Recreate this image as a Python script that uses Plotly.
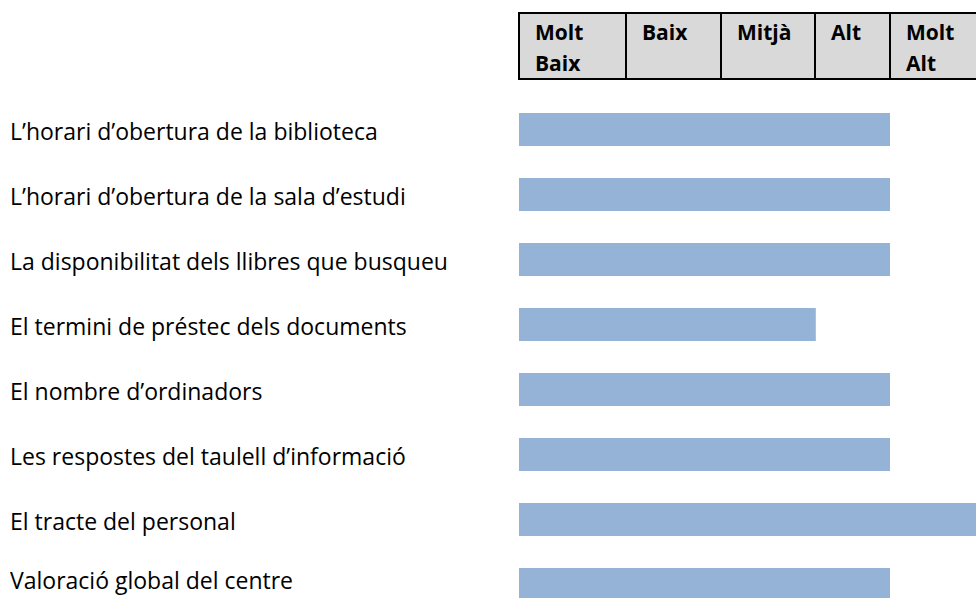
import plotly.graph_objects as go

# ---- data ----
categories = [
    "L\u2019horari d\u2019obertura de la biblioteca",
    "L\u2019horari d\u2019obertura de la sala d\u2019estudi",
    "La disponibilitat dels llibres que busqueu",
    "El termini de préstec dels documents",
    "El nombre d\u2019ordinadors",
    "Les respostes del taulell d\u2019informació",
    "El tracte del personal",
    "Valoració global del centre",
]
values = [4.0, 4.0, 4.0, 3.2, 4.0, 4.0, 5.0, 4.0]
levels = [["Molt", "Baix"], ["Baix"], ["Mitjà"], ["Alt"], ["Molt", "Alt"]]

# ---- layout constants ----
W, H = 976, 598
X0_PX, UNIT_PX = 519.0, 92.75           # axis: value 0 at px 519, 92.75 px per unit
Y0_PX, STEP_PX = 129.5, 65.0            # first category centre, category spacing
col_edges_px = [519, 626, 721, 815, 890, 1000]
table_top, table_bot = 13, 79
line_y_px = [31.5, 63.0]
FONT = "Open Sans"

def px(x):
    return x / W

def py(y):
    return 1 - y / H

fig = go.Figure()
fig.add_trace(go.Bar(
    x=values, y=categories, orientation="h",
    marker=dict(color="#95b3d7", line=dict(width=0)),
    hoverinfo="skip",
))

shapes = []
annotations = []
for i, lines in enumerate(levels):
    x0, x1 = col_edges_px[i], col_edges_px[i + 1]
    shapes.append(dict(type="rect", xref="paper", yref="paper",
                       x0=px(x0), x1=px(x1), y0=py(table_bot), y1=py(table_top),
                       fillcolor="#d9d9d9", line=dict(color="black", width=2),
                       layer="below"))
    for j, t in enumerate(lines):
        annotations.append(dict(xref="paper", yref="paper", x=px(x0 + 14), y=py(line_y_px[j]),
                                xanchor="left", yanchor="middle", align="left",
                                text="<b>" + t + "</b>", showarrow=False,
                                font=dict(family=FONT, size=21, color="black")))

for k, c in enumerate(categories):
    shift = -1 if k < len(categories) - 1 else 5   # keep the last label fully visible
    annotations.append(dict(xref="paper", yref="y", x=px(8), y=c,
                            xanchor="left", yanchor="middle", yshift=shift,
                            text=c, showarrow=False, align="left",
                            font=dict(family=FONT, size=23, color="black")))

fig.update_layout(
    width=W, height=H,
    margin=dict(l=0, r=0, t=0, b=0),
    paper_bgcolor="white", plot_bgcolor="white",
    showlegend=False,
    bargap=1 - 33 / 65,
    xaxis=dict(range=[-X0_PX / UNIT_PX, (W - X0_PX) / UNIT_PX],
               showgrid=False, zeroline=False, showticklabels=False,
               showline=False, fixedrange=True),
    yaxis=dict(type="category", categoryorder="array", categoryarray=categories,
               range=[(H - Y0_PX) / STEP_PX, -Y0_PX / STEP_PX],
               showgrid=False, zeroline=False, showticklabels=False,
               showline=False, fixedrange=True),
    shapes=shapes,
    annotations=annotations,
)

fig.write_html("out.html",
               config={"displayModeBar": False},
               post_script="document.body.style.margin='0px';document.body.style.overflow='hidden';")
